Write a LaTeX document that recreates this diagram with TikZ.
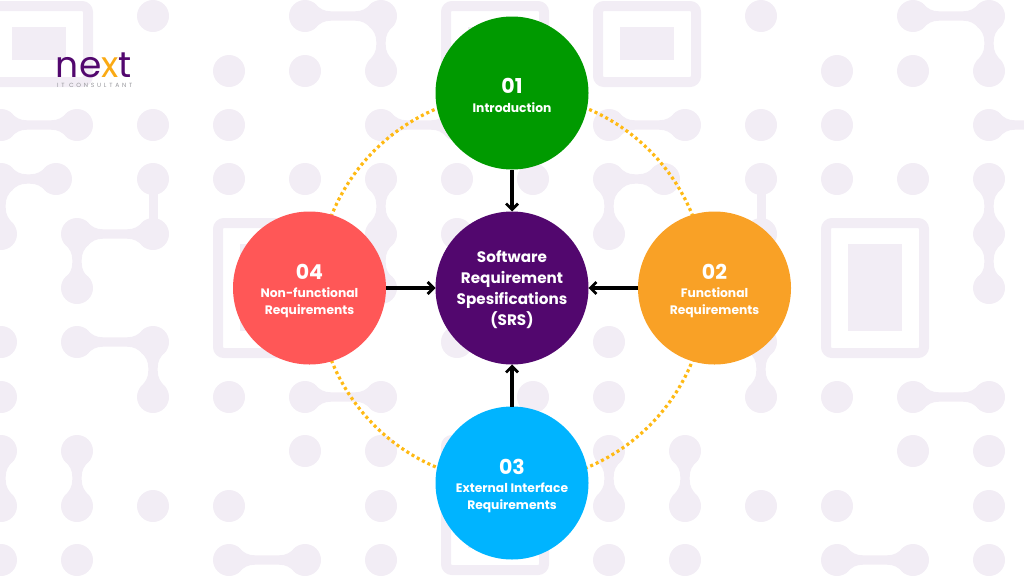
\documentclass[tikz,border=0pt]{standalone}
\usepackage{fontspec}
\setmainfont{Poppins}
\usetikzlibrary{arrows.meta, positioning}
\definecolor{tilegray}{RGB}{242, 237, 245}
\definecolor{ringgold}{RGB}{255, 186, 20}
\definecolor{introgreen}{RGB}{0, 154, 0}
\definecolor{srspurple}{RGB}{82, 7, 110}
\definecolor{funcorange}{RGB}{249, 161, 38}
\definecolor{extblue}{RGB}{0, 180, 255}
\definecolor{nonfred}{RGB}{255, 87, 87}
\definecolor{logogray}{RGB}{150, 150, 155}
\definecolor{logogold}{RGB}{250, 170, 20}
\newcommand{\numlabel}[1]{\rule{0pt}{20.5pt}{\fontsize{20.5}{23}\selectfont #1}}
\tikzset{
  neck/.pic={
    \fill[tilegray] (9,-13) .. controls (15,-7) and (19,-4.7) .. (26,-4.7) -- ({#1-26},-4.7)
      .. controls ({#1-19},-4.7) and ({#1-15},-7) .. ({#1-9},-13) -- ({#1-9},13)
      .. controls ({#1-15},7) and ({#1-19},4.7) .. ({#1-26},4.7) -- (26,4.7)
      .. controls (19,4.7) and (15,7) .. (9,13) -- cycle;
  },
}
\begin{document}
\begin{tikzpicture}[x=1pt, y=-1pt,
  tileframe/.style={draw=tilegray, line width=10pt, rounded corners=6pt},
  topic/.style={circle, fill=#1, minimum size=153pt, inner sep=0pt, outer sep=0pt, text=white, align=center,
    font=\fontsize{12.3}{16.6}\selectfont\bfseries},
  flow/.style={-{Straight Barb[length=6pt, width=12pt, line width=2.8pt]}, line width=3.2pt, black},
  ring/.style={ringgold, line width=3.2pt, dash pattern=on 3pt off 3pt},
]
  \path[use as bounding box] (0,0) rectangle (1024,576);
  \begin{scope}
    \clip (0,0) rectangle (1024,576);
    \foreach \cx/\cy in {153/16, 305/16, 381/16, 761/16, 913/16, 989/16,
      229/71, 305/71, 381/71, 837/71, 913/71, 989/71,
      1/125, 77/125, 153/125, 229/125, 381/125, 457/125, 609/125, 685/125, 761/125, 837/125, 989/125,
      1/179, 56/179, 153/179, 229/179, 305/179, 381/179, 457/179, 533/179, 609/179, 664/179, 761/179, 837/179, 913/179, 989/179,
      1/234, 77/234, 153/234, 381/234, 457/234, 609/234, 761/234, 989/234,
      77/288, 381/288, 989/288,
      1/342, 77/342, 153/342, 457/342, 609/342, 761/342,
      1/397, 153/397, 229/397, 305/397, 381/397, 533/397, 609/397, 761/397, 837/397, 913/397, 989/397,
      1/451, 77/451, 305/451, 381/451, 609/451, 685/451, 913/451, 989/451,
      1/506, 77/506, 153/506, 229/506, 381/506, 609/506, 685/506, 761/506, 837/506, 989/506,
      1/560, 77/560, 229/560, 305/560, 381/560, 609/560, 685/560, 837/560, 913/560, 989/560}
      \fill[tilegray] (\cx,\cy) circle (16);
    \foreach \cx/\cy/\len in {305/16/76, 913/16/76, 1/125/76, 381/125/76, 609/125/76, 989/125/76,
      1/179/55, 609/179/55, 77/234/76, 77/342/76, 305/397/76, 913/397/76, 229/560/76, 837/560/76}
      \pic at (\cx,\cy) {neck=\len};
    \foreach \cx/\cy in {381/16, 989/16, 1/179, 609/179, 381/179, 381/234, 989/179, 989/234, 77/234,
      153/342, 761/342, 1/451, 77/451, 609/451, 685/451}
      \pic[rotate=-90] at (\cx,\cy) {neck=54.5};
    \foreach \cx in {153, 761}
      \fill[tilegray] ({\cx-4.5},179) rectangle ({\cx+4.5},234);
    \foreach \cx/\cy/\ch in {-10/6/76, 446/6/76, 598/6/76, 218/223/130, 826/223/130, 446/440/130} {
      \draw[tileframe] (\cx,\cy) rectangle ({\cx+98},{\cy+\ch});
      \fill[tilegray] ({\cx+22},{\cy+21}) rectangle ({\cx+76},{\cy+\ch-21-1});
    }
  \end{scope}
  \node[anchor=base west, inner sep=0pt, font=\fontsize{36}{36}\selectfont\addfontfeatures{LetterSpace=3}] (brand) at (55,77)
    {\textcolor{srspurple}{ne}\textcolor{logogold}{x}\textcolor{srspurple}{t}};
  \node[anchor=base west, inner sep=0pt, text=logogray, font=\fontsize{6}{6}\selectfont\addfontfeatures{LetterSpace=46}] (tagline) at (57,87)
    {IT CONSULTANT};
  \coordinate (hub) at (512,288);
  \draw[ring] (hub) circle (194.5);
  \node[topic=srspurple, font=\fontsize{15.2}{21}\selectfont\bfseries] (srs) at (hub) {\rule{0pt}{15.5pt}Software\\Requirement\\Spesifications\\(SRS)};
  \node[topic=introgreen] (intro) at (512,93) {\numlabel{01}\\[2pt]Introduction};
  \node[topic=funcorange] (func) at (714.5,288) {\numlabel{02}\\[2pt]Functional\\Requirements};
  \node[topic=extblue] (ext) at (512,483) {\numlabel{03}\\[2pt]External Interface\\Requirements};
  \node[topic=nonfred] (nonf) at (309.5,288) {\numlabel{04}\\[2pt]Non-functional\\Requirements};
  \draw[flow] (intro) -- (srs);
  \draw[flow] (func) -- (srs);
  \draw[flow] (ext) -- (srs);
  \draw[flow] (nonf) -- (srs);
\end{tikzpicture}
\end{document}
